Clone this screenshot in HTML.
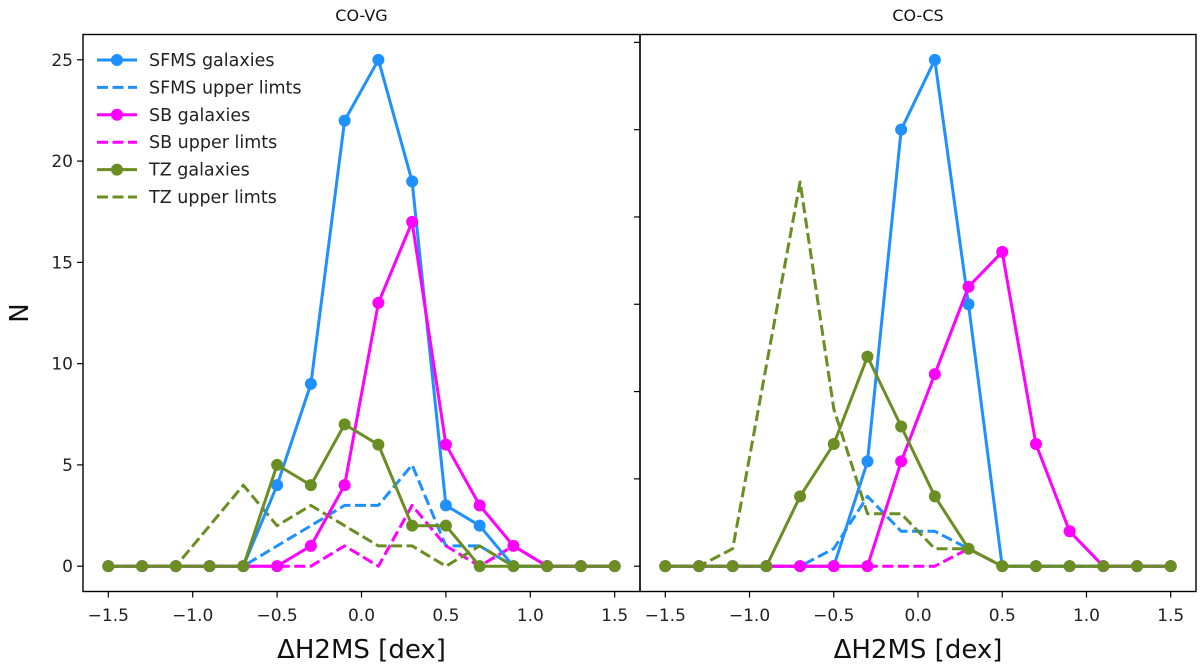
<!DOCTYPE html>
<html><head><meta charset="utf-8"><style>
html,body{margin:0;padding:0;background:#fff;}
svg{display:block;font-family:"DejaVu Sans","Liberation Sans",sans-serif;}
</style></head><body>
<svg id="chart" width="1200" height="669" viewBox="0 0 1200 669" xmlns="http://www.w3.org/2000/svg"></svg>
<script>
const xCats = [-1.5,-1.3,-1.1,-0.9,-0.7,-0.5,-0.3,-0.1,0.1,0.3,0.5,0.7,0.9,1.1,1.3,1.5];
const xTickLabels = ["\u22121.5","\u22121.0","\u22120.5","0.0","0.5","1.0","1.5"];
const xTickValues = [-1.5,-1.0,-0.5,0.0,0.5,1.0,1.5];
const yTickValues = [0,5,10,15,20,25];
const yTickValuesRight = [0,5,10,15,20,25,30];
// Left panel (CO-VG)
const vgSfms   = [0,0,0,0,0,4,9,22,25,19,3,2,0,0,0,0];
const vgSfmsUL = [0,0,0,0,0,1,2,3,3,5,1,1,0,0,0,0];
const vgSb     = [0,0,0,0,0,0,1,4,13,17,6,3,1,0,0,0];
const vgSbUL   = [0,0,0,0,0,0,0,1,0,3,1,0,1,0,0,0];
const vgTz     = [0,0,0,0,0,5,4,7,6,2,2,0,0,0,0,0];
const vgTzUL   = [0,0,0,2,4,2,3,2,1,1,0,1,0,0,0,0];
// Right panel (CO-CS)
const csSfms   = [0,0,0,0,0,0,6,25,29,15,0,0,0,0,0,0];
const csSfmsUL = [0,0,0,0,0,1,4,2,2,1,0,0,0,0,0,0];
const csSb     = [0,0,0,0,0,0,0,6,11,16,18,7,2,0,0,0];
const csSbUL   = [0,0,0,0,0,0,0,0,0,1,0,0,0,0,0,0];
const csTz     = [0,0,0,0,4,7,12,8,4,1,0,0,0,0,0,0];
const csTzUL   = [0,0,1,11.5,22,9,3,3,1,1,0,0,0,0,0,0];

const NS="http://www.w3.org/2000/svg";
const svg=document.getElementById('chart');
function el(tag,attrs,parent){const e=document.createElementNS(NS,tag);for(const k in attrs)e.setAttribute(k,attrs[k]);(parent||svg).appendChild(e);return e;}
const C={blue:"#1e90ff",mag:"#ff00ff",green:"#6b8e23"};
const LW=3, MR=6;

function panel(name,x0,x1,yTop,yBot,ymin,ymax,title,series,yticks,showYLabels){
  const g=el('g',{});
  
  
  const sx=v=>x0+(v+1.65)/3.3*(x1-x0);
  const sy=v=>yBot-(v-ymin)/(ymax-ymin)*(yBot-yTop);
  series.forEach(s=>{
    const pts=xCats.map((x,i)=>sx(x).toFixed(1)+','+sy(s.vals[i]).toFixed(1)).join(' ');
    const pl=el('polyline',{points:pts,fill:'none',stroke:s.color,'stroke-width':LW,'stroke-linejoin':'round'},g);
    
    
    if(s.dash)pl.setAttribute('stroke-dasharray','11,4.5');
    if(!s.dash){
      s.vals.forEach((v,i)=>{
        const c=el('circle',{cx:sx(xCats[i]),cy:sy(v),r:MR,fill:s.color},g);
        
        
      });
    }
  });
  const fr=el('rect',{x:x0,y:yTop,width:x1-x0,height:yBot-yTop,fill:'none',stroke:'#000','stroke-width':1.4},g);
  
  
  xTickValues.forEach((v,i)=>{
    el('line',{x1:sx(v),x2:sx(v),y1:yBot,y2:yBot+6,stroke:'#000','stroke-width':1.2},g);
    const t=el('text',{x:sx(v),y:621,'text-anchor':'middle','font-size':17,fill:'#222'},g);
    t.textContent=xTickLabels[i];
    
    
  });
  yticks.forEach(v=>{
    el('line',{x1:x0-6,x2:x0,y1:sy(v),y2:sy(v),stroke:'#000','stroke-width':1.2},g);
    if(showYLabels){
      const t=el('text',{x:x0-10,y:sy(v)+6,'text-anchor':'end','font-size':17,fill:'#222'},g);
      t.textContent=String(v);
      
      
    }
  });
  const tt=el('text',{x:(x0+x1)/2,y:21,'text-anchor':'middle','font-size':16,fill:'#111'},g);
  tt.textContent=title;
  
  
  const xl=el('text',{x:(x0+x1)/2,y:658,'text-anchor':'middle','font-size':26,fill:'#111'},g);
  xl.textContent='\u0394H2MS [dex]';
  
  
}

panel('panel-co-vg',83,640,34.5,591.5,-1.25,26.25,'CO-VG',[
  {name:'sfms-upper-limits',vals:vgSfmsUL,color:C.blue,dash:true},
  {name:'sb-upper-limits',vals:vgSbUL,color:C.mag,dash:true},
  {name:'tz-upper-limits',vals:vgTzUL,color:C.green,dash:true},
  {name:'sfms-galaxies',vals:vgSfms,color:C.blue},
  {name:'sb-galaxies',vals:vgSb,color:C.mag},
  {name:'tz-galaxies',vals:vgTz,color:C.green}
],yTickValues,true);
panel('panel-co-cs',640,1196,34.5,591.5,-1.45,30.45,'CO-CS',[
  {name:'sfms-upper-limits',vals:csSfmsUL,color:C.blue,dash:true},
  {name:'sb-upper-limits',vals:csSbUL,color:C.mag,dash:true},
  {name:'tz-upper-limits',vals:csTzUL,color:C.green,dash:true},
  {name:'sfms-galaxies',vals:csSfms,color:C.blue},
  {name:'sb-galaxies',vals:csSb,color:C.mag},
  {name:'tz-galaxies',vals:csTz,color:C.green}
],yTickValuesRight,false);

const yl=el('text',{x:0,y:0,'text-anchor':'middle','font-size':26,fill:'#111',transform:'translate(28,313) rotate(-90)'});
yl.textContent='N';



const legend=el('g',{});


const legItems=[['SFMS galaxies',C.blue,false],['SFMS upper limts',C.blue,true],['SB galaxies',C.mag,false],['SB upper limts',C.mag,true],['TZ galaxies',C.green,false],['TZ upper limts',C.green,true]];
legItems.forEach((it,i)=>{
  const y=60+i*27.4;
  const row=el('g',{},legend);
  
  
  const ln=el('line',{x1:97,x2:137,y1:y,y2:y,stroke:it[1],'stroke-width':LW},row);
  if(it[2])ln.setAttribute('stroke-dasharray','11,4.5');
  else el('circle',{cx:117,cy:y,r:MR,fill:it[1]},row);
  const t=el('text',{x:149,y:y+6,'font-size':17.5,fill:'#222'},row);
  t.textContent=it[0];
});
</script>
</body></html>
